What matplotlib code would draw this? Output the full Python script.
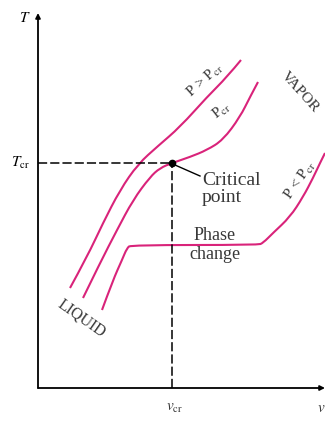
import numpy as np
import matplotlib.pyplot as plt
from matplotlib.path import Path
from matplotlib.patches import PathPatch

plt.rcParams['font.family'] = 'Liberation Serif'
plt.rcParams['mathtext.fontset'] = 'stix'

# isobars on the T-v diagram (v, T in arbitrary units)
v_above = [32, 49, 65, 82, 100, 120, 142, 169, 189, 203]
T_above = [100, 131, 165, 198, 224, 242, 261, 291, 311, 328]

v_crit = [45, 62, 79, 95, 112, 122, 134, 152, 169, 185, 202, 212, 220]
T_crit = [90, 125, 158, 188, 211, 220, 225, 231, 238, 248, 271, 291, 306]

v_below = [64, 75, 84, 89, 93, 220, 225, 235, 252, 265, 275, 282, 287]
T_below = [78, 108, 128, 140, 143, 143, 145, 155, 171, 191, 210, 225, 235]

v_cr = 134
T_cr = 225

pink = '#d9237a'
txt = '#383838'


def smooth_path(xs, ys):
    # quadratic bezier through the midpoints, points used as control points
    pts = list(zip(xs, ys))
    verts = [pts[0]]
    codes = [Path.MOVETO]
    for i in range(1, len(pts) - 1):
        mid = ((pts[i][0] + pts[i + 1][0]) / 2, (pts[i][1] + pts[i + 1][1]) / 2)
        if i == len(pts) - 2:
            mid = pts[-1]
        verts += [pts[i], mid]
        codes += [Path.CURVE3, Path.CURVE3]
    return Path(verts, codes)


fig = plt.figure(figsize=(3.25, 4.21), dpi=100)
ax = fig.add_axes([38/325, 33/421, 287/325, 375/421])
ax.set_xlim(0, 287)
ax.set_ylim(0, 375)
ax.axis('off')

# axes with arrow heads
ax.annotate('', xy=(0, 375), xytext=(0, 0),
            arrowprops=dict(arrowstyle='-|>', color='k', lw=1.3,
                            mutation_scale=7, shrinkA=0, shrinkB=0),
            annotation_clip=False)
ax.annotate('', xy=(287, 0), xytext=(0, 0),
            arrowprops=dict(arrowstyle='-|>', color='k', lw=1.3,
                            mutation_scale=7, shrinkA=0, shrinkB=0),
            annotation_clip=False)

for xs, ys in [(v_above, T_above), (v_crit, T_crit), (v_below, T_below)]:
    ax.add_patch(PathPatch(smooth_path(xs, ys), facecolor='none',
                           edgecolor=pink, lw=1.5, clip_on=False))

ax.plot([0, v_cr], [T_cr, T_cr], color='k', lw=1.1, dashes=(6, 2))
ax.plot([v_cr, v_cr], [0, T_cr], color='k', lw=1.1, dashes=(6, 2))
ax.plot(v_cr, T_cr, 'o', color='k', ms=4.5)
ax.plot([v_cr + 3, v_cr + 28], [T_cr - 2, T_cr - 13], color='k', lw=1.0)

# axis labels
ax.text(-13, 370, '$T$', fontsize=11, fontweight='bold', ha='center', va='center')
ax.text(-18, T_cr, r'$T_{\rm cr}$', fontsize=11, ha='center', va='center')
ax.text(v_cr + 3, -20, r'$v_{\rm cr}$', fontsize=11, ha='center', va='center', color=txt)
ax.text(279, -20, '$v$', fontsize=11, ha='left', va='center', color=txt, clip_on=False)

# curve and region labels
ax.text(167, 308, r'P > P$_{\rm cr}$', fontsize=11, rotation=42, ha='center', va='center', color=txt)
ax.text(184, 277, r'P$_{\rm cr}$', fontsize=11, rotation=38, ha='center', va='center', color=txt)
ax.text(262, 296, 'VAPOR', fontsize=11, rotation=-48, ha='center', va='center', color=txt)
ax.text(262, 208, r'P < P$_{\rm cr}$', fontsize=11, rotation=55, ha='center', va='center', color=txt)
ax.text(44, 70, 'LIQUID', fontsize=11.5, rotation=-35, ha='center', va='center', color=txt)
ax.text(164, 199, 'Critical\npoint', fontsize=14, ha='left', va='center',
        linespacing=1.0, color=txt)
ax.text(177, 143, 'Phase\nchange', fontsize=13, ha='center', va='center',
        linespacing=1.15, color=txt)

fig.savefig('out.png', dpi=100)
